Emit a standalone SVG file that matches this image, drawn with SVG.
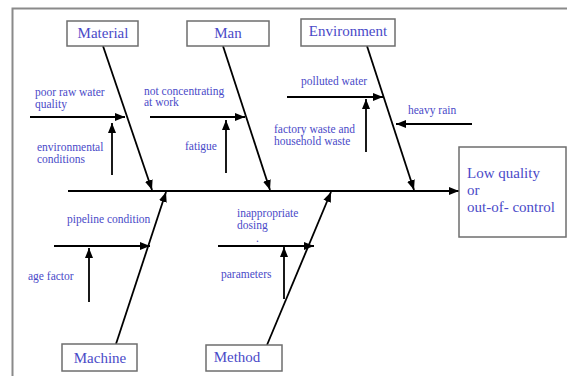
<svg xmlns="http://www.w3.org/2000/svg" width="567" height="376" viewBox="0 0 567 376">
<defs>
<marker id="ah" viewBox="0 0 10 8" refX="10" refY="4" markerWidth="10" markerHeight="8" markerUnits="userSpaceOnUse" orient="auto">
<path d="M0,0 L10,4 L0,8 Z" fill="#000"/>
</marker>
</defs>
<style>
.box{fill:#fff;stroke:#6e6e6e;stroke-width:1.5}
.cat{font-family:"Liberation Serif",serif;font-size:15px;fill:#4a4ac8;text-anchor:middle}
.lbl{font-family:"Liberation Serif",serif;font-size:11.5px;fill:#4a4ac8}
.eff{font-family:"Liberation Serif",serif;font-size:15px;fill:#4a4ac8}
.ar{stroke:#000;stroke-width:1.8;fill:none;marker-end:url(#ah)}
</style>
<rect width="567" height="376" fill="#fff"/>
<path d="M12.5,376 V8.5 H567" fill="none" stroke="#8a8a8a" stroke-width="2"/>
<g id="connectors">
<line class="ar" x1="68" y1="191" x2="459" y2="191"/>
<line class="ar" x1="103" y1="46" x2="152" y2="190"/>
<line class="ar" x1="223" y1="46" x2="270" y2="190"/>
<line class="ar" x1="367" y1="46" x2="414" y2="190"/>
<line class="ar" x1="116" y1="344" x2="166" y2="192"/>
<line class="ar" x1="267" y1="345" x2="331" y2="192"/>
<line class="ar" x1="30" y1="117" x2="125" y2="117"/>
<line class="ar" x1="112" y1="175" x2="112" y2="123"/>
<line class="ar" x1="150" y1="117" x2="245" y2="117"/>
<line class="ar" x1="226" y1="173" x2="226" y2="120"/>
<line class="ar" x1="287" y1="97" x2="383" y2="97"/>
<line class="ar" x1="366" y1="152" x2="366" y2="99"/>
<line class="ar" x1="472" y1="124" x2="396" y2="124"/>
<line class="ar" x1="54" y1="246" x2="150" y2="246"/>
<line class="ar" x1="89" y1="302" x2="89" y2="248"/>
<line class="ar" x1="218" y1="246" x2="314" y2="246"/>
<line class="ar" x1="284" y1="299" x2="284" y2="247"/>
</g>
<g id="material">
<rect class="box" x="67" y="21" width="71" height="25"/>
<text class="cat" x="103" y="38">Material</text>
</g>
<g id="man">
<rect class="box" x="187" y="21" width="82" height="25"/>
<text class="cat" x="228" y="38">Man</text>
</g>
<g id="environment">
<rect class="box" x="301" y="19" width="94" height="27"/>
<text class="cat" x="348" y="36">Environment</text>
</g>
<g id="machine">
<rect class="box" x="62" y="344" width="75" height="27"/>
<text class="cat" x="100" y="363">Machine</text>
</g>
<g id="method">
<rect class="box" x="206" y="345" width="76" height="26"/>
<text class="cat" x="237" y="362">Method</text>
</g>
<g id="effect">
<rect class="box" x="459" y="147" width="107" height="90"/>
<text class="eff" x="467" y="178">Low quality</text>
<text class="eff" x="467" y="195">or</text>
<text class="eff" x="467" y="212">out-of- control</text>
</g>
<g id="cause-poor-raw-water">
<text class="lbl" x="35" y="96">poor raw water</text>
<text class="lbl" x="35" y="108">quality</text>
</g>
<g id="cause-environmental">
<text class="lbl" x="37" y="151">environmental</text>
<text class="lbl" x="37" y="163">conditions</text>
</g>
<g id="cause-not-concentrating">
<text class="lbl" x="144" y="95">not concentrating</text>
<text class="lbl" x="144" y="106">at work</text>
</g>
<g id="cause-fatigue">
<text class="lbl" x="185" y="150">fatigue</text>
</g>
<g id="cause-polluted">
<text class="lbl" x="301" y="85">polluted water</text>
</g>
<g id="cause-factory">
<text class="lbl" x="274" y="133">factory waste and</text>
<text class="lbl" x="274" y="145">household waste</text>
</g>
<g id="cause-heavy-rain">
<text class="lbl" x="408" y="114">heavy rain</text>
</g>
<g id="cause-pipeline">
<text class="lbl" x="67" y="223">pipeline condition</text>
</g>
<g id="cause-age">
<text class="lbl" x="28" y="280">age factor</text>
</g>
<g id="cause-dosing">
<text class="lbl" x="237" y="217">inappropriate</text>
<text class="lbl" x="237" y="229">dosing</text>
<text class="lbl" x="256" y="242">.</text>
</g>
<g id="cause-parameters">
<text class="lbl" x="221" y="278">parameters</text>
</g>
</svg>
